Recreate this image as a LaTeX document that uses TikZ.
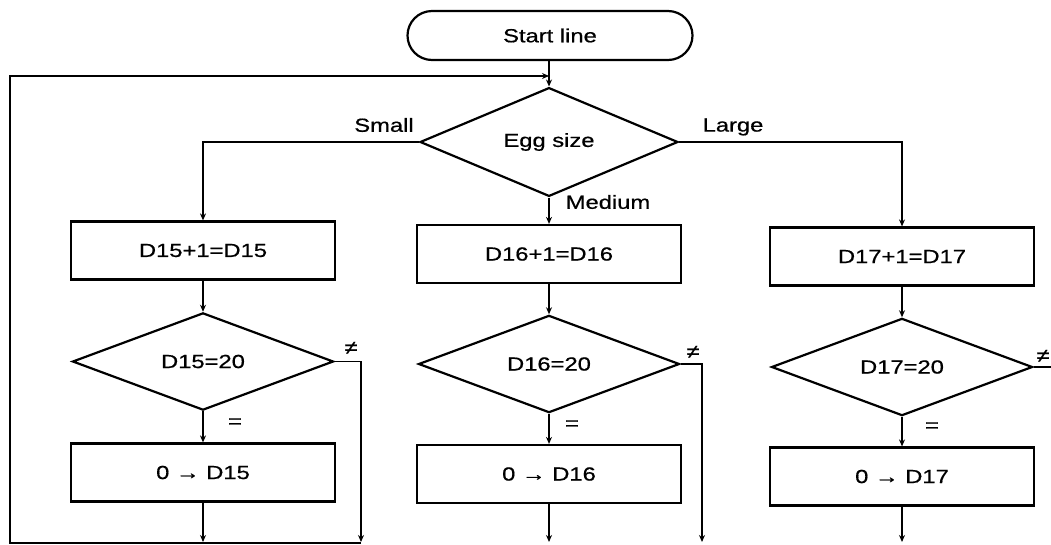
\documentclass[tikz,border=0pt]{standalone}
\usepackage{fontspec}
\setmainfont{Liberation Sans}[FakeStretch=1.25,FakeBold=0.7]
\usetikzlibrary{shapes.geometric,shapes.misc,arrows.meta}
\begin{document}
\begin{tikzpicture}[x=1pt,y=-1pt,
  every node/.style={font=\fontsize{19}{22}\selectfont},
  proc/.style={draw,line width=2.2pt,minimum width=264pt,minimum height=58pt,inner sep=0pt},
  dec/.style={draw,diamond,line width=2.2pt,minimum width=261pt,minimum height=78pt,inner sep=0pt},
  term/.style={draw,rounded rectangle,line width=2.2pt,minimum width=285pt,minimum height=49pt,inner sep=0pt},
  conn/.style={line width=1.8pt},
  arr/.style={conn,-{Stealth[length=7pt,width=6pt]}},
  lbl/.style={inner sep=0pt}]
\useasboundingbox (0,0) rectangle (1051,544);
\clip (0,0) rectangle (1051,544);
% nodes
\node[term] (start) at (550,35.5) {Start line};
\node[dec,minimum width=258pt,minimum height=79pt] (egg) at (549,142) {Egg size};
\node[proc] (b1) at (203,250.5) {D15+1=D15};
\node[proc] (b2) at (549,254) {D16+1=D16};
\node[proc] (b3) at (902,256.5) {D17+1=D17};
\node[dec] (d1) at (203,361.5) {D15=20};
\node[dec] (d2) at (549,364) {D16=20};
\node[dec] (d3) at (902,367) {D17=20};
\node[proc] (c1) at (203,472.5) {0 → D15};
\node[proc] (c2) at (549,474) {0 → D16};
\node[proc] (c3) at (902,476.5) {0 → D17};
% labels
\node[lbl] (lsmall) at (384,125) {Small};
\node[lbl] (llarge) at (733,127) {Large};
\node[lbl] (lmed) at (608,202) {Medium};
\node[lbl] (le1) at (235,423) {=};
\node[lbl] (le2) at (572,425) {=};
\node[lbl] (le3) at (932,427) {=};
\node[lbl] (ln1) at (351,348) {≠};
\node[lbl] (ln2) at (693,352) {≠};
\node[lbl] (ln3) at (1043,356) {≠};
% coordinates
\coordinate (bot) at (0,542);
\coordinate (botline) at (0,543);
\coordinate (n1) at (361,361.5);
\coordinate (n2) at (702,364);
\coordinate (n3) at (1060,367);
\coordinate (loopB) at (10,543);
\coordinate (loopT) at (10,76);
\coordinate (join) at (549,76);
% connectors
\draw[arr] (start.south -| egg.north) -- (egg.north);
\draw[arr] (n1 |- botline) -- (loopB) -- (loopT) -- (join);
\draw[arr] (egg.west) -| (b1.north);
\draw[arr] (egg.east) -| (b3.north);
\draw[arr] (egg.south) -- (b2.north);
\draw[arr] (b1.south) -- (d1.north);
\draw[arr] (b2.south) -- (d2.north);
\draw[arr] (b3.south) -- (d3.north);
\draw[arr] (d1.south) -- (c1.north);
\draw[arr] (d2.south) -- (c2.north);
\draw[arr] (d3.south) -- (c3.north);
\draw[arr] (d1.east) -- (n1) -- (n1 |- bot);
\draw[arr] (d2.east) -- (n2) -- (n2 |- bot);
\draw[conn] (d3.east) -- (n3);
\draw[arr] (c1.south) -- (c1.south |- bot);
\draw[arr] (c2.south) -- (c2.south |- bot);
\draw[arr] (c3.south) -- (c3.south |- bot);
\end{tikzpicture}
\end{document}
